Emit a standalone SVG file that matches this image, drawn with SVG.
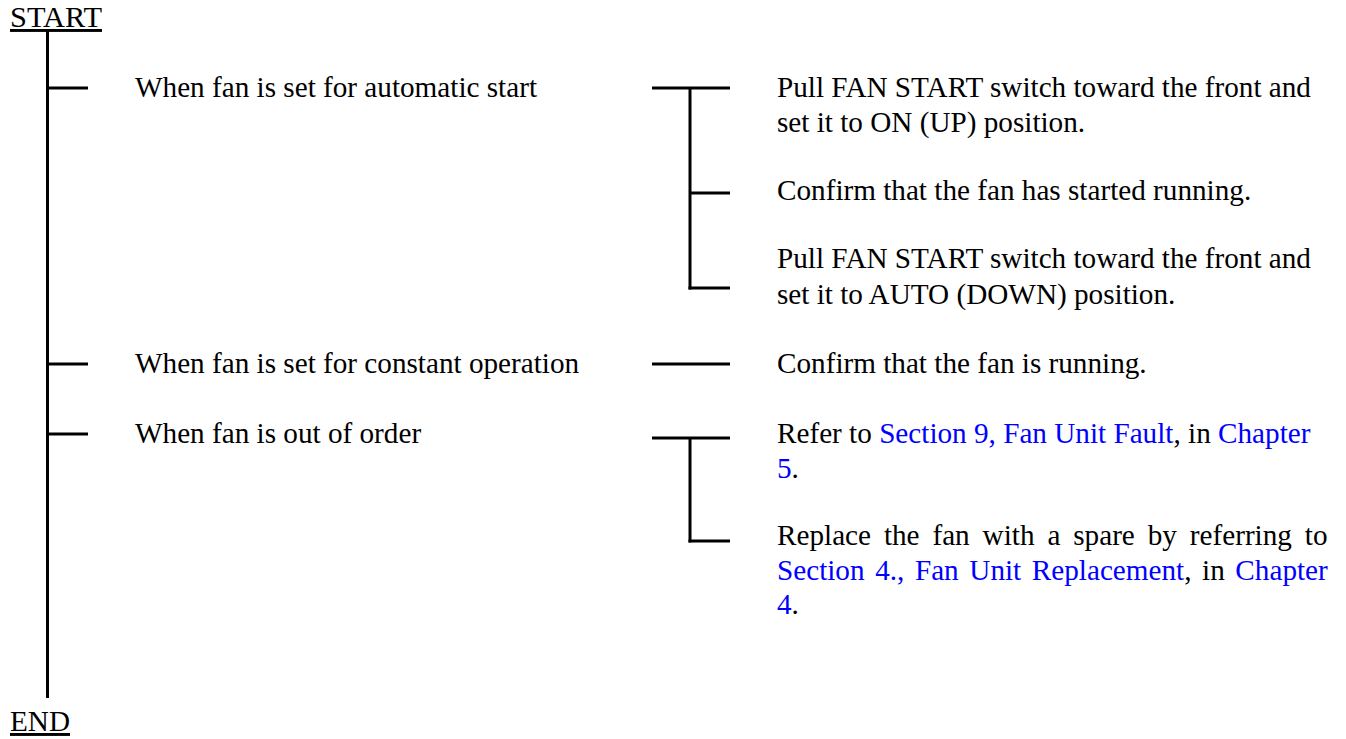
<svg xmlns="http://www.w3.org/2000/svg" width="1346" height="739" viewBox="0 0 1346 739">
<style>
text{font-family:"Liberation Serif","Times New Roman",serif;font-size:29.2px;fill:#000}
.lnk{fill:#0000ff}
.u{text-decoration:underline}
#connectors line{stroke:#000;stroke-width:3;fill:none}
</style>
<rect width="1346" height="739" fill="#fff"/>
<g id="connectors">
<line x1="47.5" y1="31" x2="47.5" y2="698"/>
<line x1="47.5" y1="88" x2="88" y2="88"/>
<line x1="47.5" y1="364" x2="88" y2="364"/>
<line x1="47.5" y1="434" x2="88" y2="434"/>
<line x1="652" y1="88" x2="730" y2="88"/>
<line x1="690" y1="88" x2="690" y2="289.5"/>
<line x1="690" y1="193" x2="730" y2="193"/>
<line x1="688.5" y1="288" x2="730" y2="288"/>
<line x1="652" y1="364" x2="730" y2="364"/>
<line x1="652" y1="438" x2="730" y2="438"/>
<line x1="690" y1="438" x2="690" y2="542.5"/>
<line x1="688.5" y1="541" x2="730" y2="541"/>
</g>
<g id="start"><text class="u" x="10" y="27" textLength="92" lengthAdjust="spacingAndGlyphs">START</text></g>
<g id="end"><text class="u" x="10" y="731">END</text></g>
<g id="cond-auto"><text x="135" y="97">When fan is set for automatic start</text></g>
<g id="cond-constant"><text x="135" y="373">When fan is set for constant operation</text></g>
<g id="cond-fault"><text x="135" y="443">When fan is out of order</text></g>
<g id="step-auto-on"><text x="777" y="97">Pull FAN START switch toward the front and</text><text x="777" y="132">set it to ON (UP) position.</text></g>
<g id="step-auto-confirm"><text x="777" y="200">Confirm that the fan has started running.</text></g>
<g id="step-auto-back"><text x="777" y="268">Pull FAN START switch toward the front and</text><text x="777" y="304">set it to AUTO (DOWN) position.</text></g>
<g id="step-constant"><text x="777" y="373">Confirm that the fan is running.</text></g>
<g id="step-fault-refer"><text x="777" y="443">Refer to <tspan class="lnk">Section 9, Fan Unit Fault</tspan>, in <tspan class="lnk">Chapter</tspan></text><text x="777" y="478"><tspan class="lnk">5</tspan>.</text></g>
<g id="step-fault-replace"><text x="777" y="545" word-spacing="5.6">Replace the fan with a spare by referring to</text><text x="777" y="580" word-spacing="3.3"><tspan class="lnk">Section 4., Fan Unit Replacement</tspan>, in <tspan class="lnk">Chapter</tspan></text><text x="777" y="614"><tspan class="lnk">4</tspan>.</text></g>
</svg>
